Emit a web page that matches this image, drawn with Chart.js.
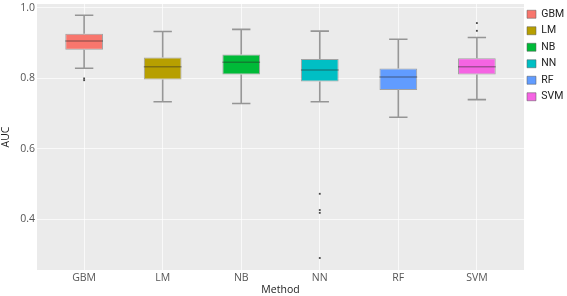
<!DOCTYPE html>
<html>
<head>
<meta charset="utf-8">
<script src="https://cdn.jsdelivr.net/npm/chart.js@4/dist/chart.umd.min.js"></script>
<style>
  html, body { margin: 0; padding: 0; background: #ffffff; }
  #wrap { width: 567px; height: 296px; position: relative; }
</style>
</head>
<body>
<div id="wrap"><canvas id="chart"></canvas></div>
<script>
// AUC per method (box plot summary)
const methods = ['GBM', 'LM', 'NB', 'NN', 'RF', 'SVM'];
const colors = ['#F8766D', '#B79F00', '#00BA38', '#00BFC4', '#619CFF', '#F564E3'];
const whiskerLow = [0.828, 0.733, 0.728, 0.733, 0.689, 0.739];
const q1 = [0.880, 0.796, 0.810, 0.790, 0.766, 0.810];
const median = [0.905, 0.832, 0.845, 0.823, 0.803, 0.832];
const q3 = [0.926, 0.858, 0.867, 0.854, 0.827, 0.856];
const whiskerHigh = [0.978, 0.932, 0.938, 0.933, 0.910, 0.915];
const outliers = [
    [0.799, 0.794],
    [],
    [],
    [0.472, 0.426, 0.418, 0.290],
    [],
    [0.956, 0.934]
];
const yTicks = [0.4, 0.6, 0.8, 1.0];

const FONT = "'Open Sans', 'DejaVu Sans', sans-serif";
const CAP_HALF = 0.117; // half width of whisker caps, in category units

// plot panel background
const panelBg = {
    id: 'panelBg',
    beforeDraw(chart) {
        const { ctx, chartArea: a } = chart;
        ctx.save();
        ctx.fillStyle = '#EBEBEB';
        ctx.fillRect(a.left, a.top, a.right - a.left, a.bottom - a.top);
        ctx.restore();
    }
};

// nudge the legend a little to the left so the labels fit
const legendShift = {
    id: 'legendShift',
    afterLayout(chart) {
        if (chart.legend) {
            chart.legend.left -= 3;
            chart.legend.right -= 3;
        }
    }
};

// whiskers go under the boxes, medians on top
const whiskers = {
    id: 'whiskers',
    beforeDatasetsDraw(chart) {
        const { ctx, scales: { x, y } } = chart;
        ctx.save();
        ctx.strokeStyle = 'rgba(140,140,140,0.9)';
        ctx.lineWidth = 1.6;
        methods.forEach((m, i) => {
            const cx = x.getPixelForValue(i);
            const l = x.getPixelForValue(i - CAP_HALF);
            const r = x.getPixelForValue(i + CAP_HALF);
            ctx.beginPath();
            ctx.moveTo(cx, y.getPixelForValue(whiskerLow[i]));
            ctx.lineTo(cx, y.getPixelForValue(q1[i]));
            ctx.moveTo(cx, y.getPixelForValue(q3[i]));
            ctx.lineTo(cx, y.getPixelForValue(whiskerHigh[i]));
            ctx.moveTo(l, y.getPixelForValue(whiskerLow[i]));
            ctx.lineTo(r, y.getPixelForValue(whiskerLow[i]));
            ctx.moveTo(l, y.getPixelForValue(whiskerHigh[i]));
            ctx.lineTo(r, y.getPixelForValue(whiskerHigh[i]));
            ctx.stroke();
        });
        ctx.restore();
    },
    afterDatasetsDraw(chart) {
        const { ctx, scales: { y } } = chart;
        ctx.save();
        ctx.strokeStyle = 'rgba(40,40,40,0.4)';
        ctx.lineWidth = 1.5;
        chart.data.datasets.forEach((ds, di) => {
            if (ds.type === 'scatter') return;
            const el = chart.getDatasetMeta(di).data[0];
            if (!el) return;
            const i = ds.data[0].x;
            const py = y.getPixelForValue(median[i]);
            ctx.beginPath();
            ctx.moveTo(el.x - el.width / 2, py);
            ctx.lineTo(el.x + el.width / 2, py);
            ctx.stroke();
        });
        ctx.restore();
    }
};

const boxSets = methods.map((m, i) => ({
    type: 'bar',
    label: m,
    data: [{ x: i, y: [q1[i], q3[i]] }],
    backgroundColor: colors[i],
    borderColor: 'rgba(90,90,90,0.5)',
    borderWidth: 1,
    borderSkipped: false,
    barPercentage: 0.48,
    categoryPercentage: 1.0,
    grouped: false
}));

const outlierPoints = [];
outliers.forEach((list, i) => list.forEach(v => outlierPoints.push({ x: i, y: v })));

const outlierSet = {
    type: 'scatter',
    label: 'outliers',
    data: outlierPoints,
    pointStyle: 'rect',
    pointRadius: 1.3,
    backgroundColor: '#4a4a4a',
    borderWidth: 0
};

new Chart(document.getElementById('chart'), {
    type: 'bar',
    data: { datasets: [...boxSets, outlierSet] },
    options: {
        responsive: true,
        maintainAspectRatio: false,
        animation: false,
        layout: { padding: { left: 0, right: 0, top: 3, bottom: 0 } },
        plugins: {
            tooltip: { enabled: false },
            legend: {
                position: 'right',
                align: 'start',
                maxWidth: 43,
                labels: {
                    boxWidth: 9,
                    boxHeight: 8,
                    padding: 6,
                    color: '#222',
                    font: { family: "Roboto, 'Open Sans', sans-serif", size: 10.5 },
                    filter: item => item.text !== 'outliers'
                }
            }
        },
        scales: {
            x: {
                type: 'linear',
                min: -0.6,
                max: 5.6,
                offset: false,
                afterBuildTicks: axis => { axis.ticks = methods.map((m, i) => ({ value: i })); },
                afterFit: axis => { axis.height = 26; axis.paddingLeft = 0; axis.paddingRight = 0; },
                ticks: {
                    callback: v => methods[v],
                    color: '#555',
                    padding: 2,
                    font: { family: FONT, size: 10.5 },
                    maxRotation: 0
                },
                grid: { color: 'rgba(255,255,255,0.7)', drawTicks: false, offset: false },
                border: { display: false },
                title: {
                    display: true,
                    text: 'Method',
                    color: '#222',
                    font: { family: FONT, size: 10.5 },
                    padding: { top: 0, bottom: 0 }
                }
            },
            y: {
                min: 0.256,
                max: 1.01,
                afterBuildTicks: axis => { axis.ticks = yTicks.map(v => ({ value: v })); },
                afterFit: axis => { axis.width = 37; axis.paddingTop = 0; axis.paddingBottom = 0; },
                ticks: {
                    callback: v => v.toFixed(1),
                    color: '#555',
                    padding: 2,
                    font: { family: FONT, size: 10.5 }
                },
                grid: { color: 'rgba(255,255,255,0.7)', drawTicks: false },
                border: { display: false },
                title: {
                    display: true,
                    text: 'AUC',
                    color: '#222',
                    font: { family: FONT, size: 10.5 },
                    padding: { top: 0, bottom: 0 }
                }
            }
        }
    },
    plugins: [panelBg, legendShift, whiskers]
});
</script>
</body>
</html>
